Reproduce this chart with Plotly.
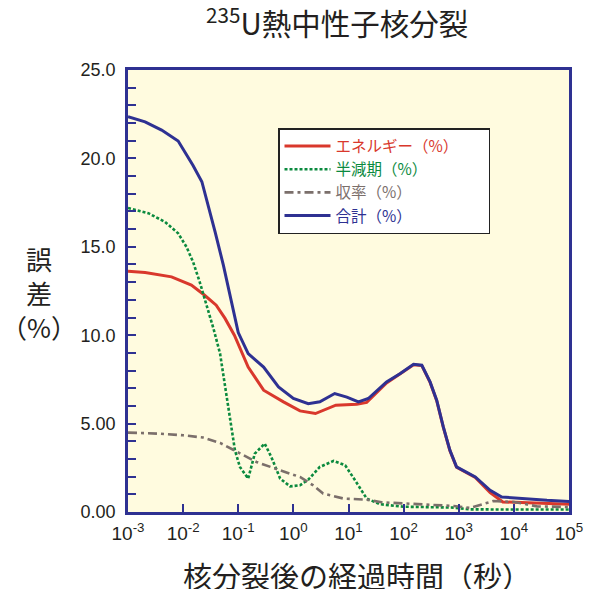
import plotly.graph_objects as go

# log10(time [s]) sample points and values (%)
blue_logt = [-3.0, -2.69, -2.39, -2.09, -1.82, -1.66, -1.42, -1.27, -1.0, -0.82, -0.54, -0.27, 0.0, 0.27,
             0.48, 0.75, 0.97, 1.18, 1.36, 1.69, 1.94, 2.18, 2.33, 2.48, 2.6, 2.72, 2.84, 2.96, 3.3,
             3.57, 3.78, 4.0, 4.6, 5.0]
blue_val = [22.36, 22.07, 21.6, 20.98, 19.6, 18.68, 15.85, 13.96, 10.15, 8.96, 8.2, 7.07, 6.42, 6.13,
            6.23, 6.7, 6.5, 6.23, 6.42, 7.36, 7.83, 8.36, 8.3, 7.36, 6.32, 4.81, 3.49, 2.55, 1.98,
            1.23, 0.85, 0.79, 0.66, 0.6]

red_logt = [-3.0, -2.69, -2.21, -1.85, -1.61, -1.40, -1.24, -1.07, -0.82, -0.54, -0.18, 0.12, 0.40,
            0.77, 1.15, 1.33, 1.69, 1.94, 2.18, 2.33, 2.48, 2.6, 2.72, 2.84, 2.96, 3.3, 3.57, 3.8,
            4.3, 5.0]
red_val = [13.62, 13.55, 13.3, 12.83, 12.26, 11.7, 10.95, 10.0, 8.2, 6.89, 6.23, 5.72, 5.57,
           6.04, 6.1, 6.2, 7.3, 7.8, 8.33, 8.28, 7.33, 6.3, 4.79, 3.47, 2.53, 1.95, 1.1, 0.57,
           0.5, 0.44]

green_logt = [-3.0, -2.63, -2.33, -2.09, -1.94, -1.82, -1.70, -1.57, -1.45, -1.33, -1.21, -1.12, -1.06,
              -0.97, -0.82, -0.70, -0.52, -0.40, -0.24, -0.06, 0.12, 0.27, 0.48, 0.73, 0.94, 1.12,
              1.33, 1.57, 2.0, 2.9, 3.2, 4.0, 5.0]
green_val = [17.2, 16.9, 16.41, 15.76, 15.0, 14.15, 13.02, 11.7, 10.38, 8.96, 6.51, 4.62, 3.49,
             2.55, 1.89, 3.3, 3.87, 3.11, 1.89, 1.45, 1.51, 1.83, 2.55, 2.89, 2.64, 1.79,
             0.76, 0.44, 0.3, 0.25, 0.15, 0.14, 0.14]

gray_logt = [-3.0, -2.42, -2.0, -1.64, -1.33, -1.06, -0.67, -0.24, 0.12, 0.36, 0.54, 0.91, 1.33,
             1.6, 2.18, 2.91, 3.2, 3.63, 4.0, 4.42, 5.0]
gray_val = [4.49, 4.43, 4.34, 4.21, 3.91, 3.45, 2.83, 2.36, 1.98, 1.51, 1.04, 0.76, 0.70,
            0.55, 0.44, 0.34, 0.23, 0.62, 0.57, 0.32, 0.28]

series_names = ["エネルギー（%）", "半減期（%）", "収率（%）", "合計（%）"]
y_tickvals = [0, 5, 10, 15, 20, 25]
y_ticktext = ["0.00", "5.00", "10.0", "15.0", "20.0", "25.0"]
x_exponents = [-3, -2, -1, 0, 1, 2, 3, 4, 5]

RED = "#d9382c"
GREEN = "#0b8a3e"
GRAY = "#7b6f6b"
BLUE = "#2e3192"
AXIS = "#2e3192"

def t(logs):
    return [10.0 ** v for v in logs]

def lname(name, color):
    return f'<span style="color:{color}">{name}</span>' + "&nbsp;" * 7

fig = go.Figure()
fig.add_trace(go.Scatter(x=t(red_logt), y=red_val, mode="lines",
                         name=lname(series_names[0], RED),
                         line=dict(color=RED, width=3)))
fig.add_trace(go.Scatter(x=t(green_logt), y=green_val, mode="lines",
                         name=lname(series_names[1], GREEN),
                         line=dict(color=GREEN, width=2.6, dash="3px,2px")))
fig.add_trace(go.Scatter(x=t(gray_logt), y=gray_val, mode="lines",
                         name=lname(series_names[2], GRAY),
                         line=dict(color=GRAY, width=2.6, dash="9px,4px,3px,4px")))
fig.add_trace(go.Scatter(x=t(blue_logt), y=blue_val, mode="lines",
                         name=lname(series_names[3], BLUE),
                         line=dict(color=BLUE, width=3)))

FONT = "Liberation Sans, Arial, Noto Sans CJK JP, sans-serif"
JFONT = "Noto Sans CJK JP, Liberation Sans, sans-serif"

# page body has an 8px margin; the figure is sized so the plot area lands at
# x 128..569, y 70..512 in the window
OFF = 8
W, H = 597 - OFF, 589 - OFF
ML, MR, MT, MB = 128 - OFF, 28, 70 - OFF, 77
PW, PH = 441, 442

def px(xw):
    return (xw - 128) / PW

def py(yw):
    return (512 - yw) / PH

fig.update_layout(
    width=W, height=H,
    margin=dict(l=ML, r=MR, t=MT, b=MB),
    paper_bgcolor="white",
    plot_bgcolor="#fffbdf",
    font=dict(family=FONT, color="#231f20"),
    showlegend=True,
    legend=dict(x=px(278), y=py(128), xanchor="left", yanchor="top",
                bgcolor="white", bordercolor="#222222", borderwidth=1.5,
                font=dict(family=JFONT, size=15.5), itemwidth=46,
                tracegroupgap=0),
    xaxis=dict(type="log", range=[-3, 5],
               tickvals=[10.0 ** e for e in x_exponents],
               ticktext=[f"10<sup>{e}</sup>" for e in x_exponents],
               ticks="inside", ticklen=8, tickwidth=2, tickcolor=AXIS,
               showline=True, linecolor=AXIS, linewidth=2.5, mirror=True,
               showgrid=False, zeroline=False,
               tickfont=dict(size=19, family=FONT, color="#231f20"),
               ticklabelstandoff=2),
    yaxis=dict(range=[0, 25], tickvals=y_tickvals, ticktext=y_ticktext,
               ticks="inside", ticklen=8, tickwidth=2, tickcolor=AXIS,
               minor=dict(dtick=1, ticks="inside", ticklen=8, tickwidth=2, tickcolor=AXIS),
               showline=True, linecolor=AXIS, linewidth=2.5, mirror=True,
               showgrid=False, zeroline=False,
               tickfont=dict(size=18, family=FONT, color="#231f20"),
               ticklabelstandoff=6),
    annotations=[
        dict(text="<sup>235</sup>U熱中性子核分裂", xref="paper", yref="paper",
             x=px(337), y=py(21), xanchor="center", yanchor="middle",
             showarrow=False, font=dict(size=29.5, family=JFONT)),
        dict(text="核分裂後の経過時間（秒）", xref="paper", yref="paper",
             x=px(357), y=py(575), xanchor="center", yanchor="middle",
             showarrow=False, font=dict(size=29, family=JFONT)),
        dict(text="誤<br>差<br>（%）", xref="paper", yref="paper",
             x=px(39), y=py(292), xanchor="center", yanchor="middle",
             showarrow=False, align="center",
             font=dict(size=26, family=JFONT)),
    ],
)

fig.write_html("out.html")
